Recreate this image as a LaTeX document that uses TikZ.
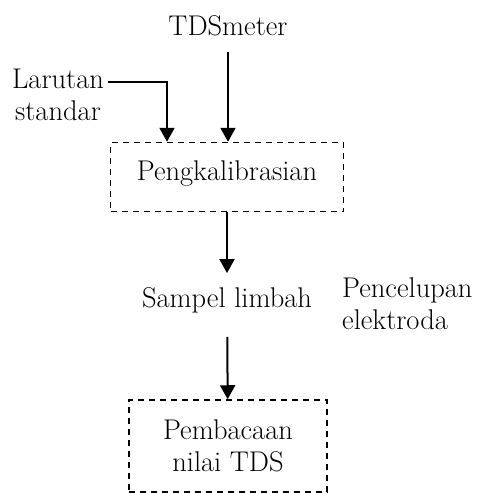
\documentclass[tikz,border=0pt]{standalone}
\usepackage{tikz}
\usetikzlibrary{arrows.meta}
\tikzset{
  txt/.style={font=\fontsize{28.5}{32}\selectfont, inner sep=4pt},
  dbox/.style={txt, draw, dashed, line width=1.5pt, dash pattern=on 6pt off 5pt, align=center},
  arr/.style={line width=2pt, -{Triangle[width=15pt,length=14pt]}}
}

\begin{document}
\begin{tikzpicture}[x=1pt,y=-1pt]
		%%%%% START %%%%%
		\useasboundingbox (0,0) rectangle (477,493);
		
		\node[txt] (tds) at (228,26) {TDSmeter};
		\node[txt, align=center] (lar) at (58,95) {Larutan\\standar};
		
		\node[dbox, minimum width=233pt, minimum height=69pt, text depth=12pt] (cal) at (227,177) {Pengkalibrasian};
		
		\node[txt] (smp) at (227,300) {Sampel limbah};
		\node[txt, align=left, anchor=west, inner sep=0pt] (cel) at (342,304) {Pencelupan\\elektroda};
		
		\node[dbox, minimum width=198pt, minimum height=92pt] (baca) at (228,446) {Pembacaan\\nilai TDS};
		
		\coordinate (bend) at (167,82);
		\draw[arr] (lar.east |- bend) -- (bend) -- (cal.north -| bend);
		\draw[arr, shorten <=12pt] (tds.south) -- (cal.north -| tds.south);
		
		\draw[arr, shorten >=10pt] (cal) -- (smp);
		\draw[arr, shorten <=20pt] (smp) -- (baca);
		%%%%% END %%%%%
\end{tikzpicture}
\end{document}
